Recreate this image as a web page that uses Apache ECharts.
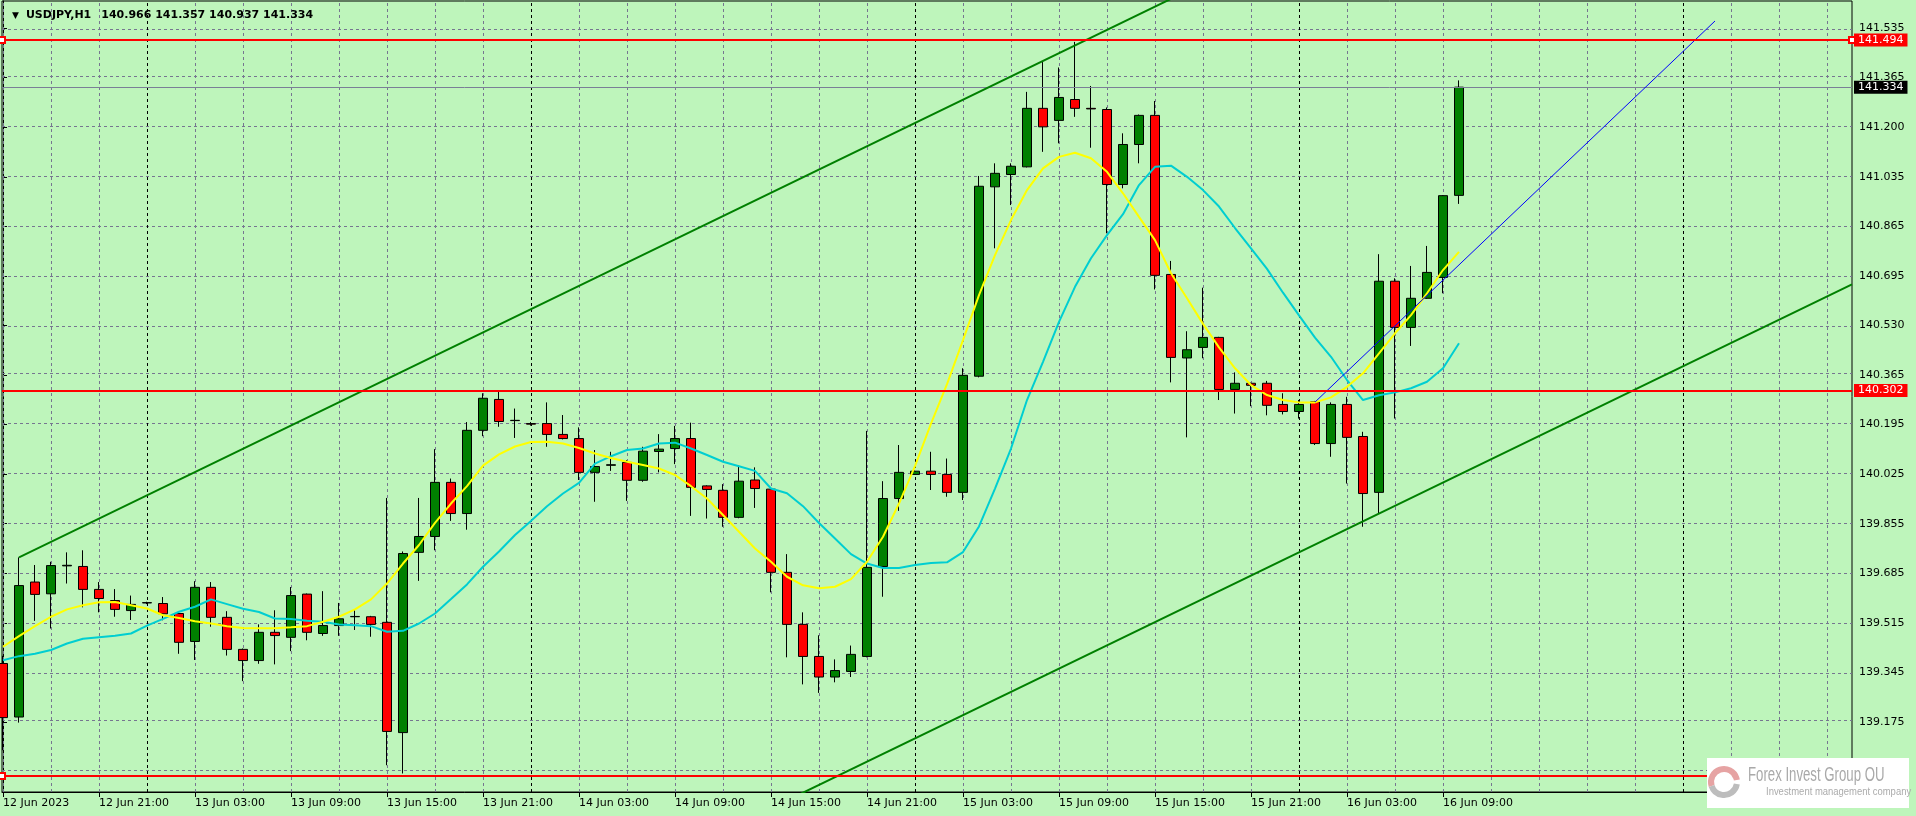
<!DOCTYPE html>
<html><head><meta charset="utf-8">
<script src="https://cdn.jsdelivr.net/npm/echarts@6/dist/echarts.min.js"></script>
<style>html,body{margin:0;padding:0;background:#bef5bb;overflow:hidden}#c{width:1916px;height:816px}</style>
</head><body><div id="c"></div>
<script>
// ---- data (hourly bars, 12 Jun 15:00 .. 16 Jun 10:00) ----
const symbolName = 'USDJPY,H1';
const opens  = [139.374,139.192,139.651,139.611,139.706,139.704,139.626,139.588,139.554,139.580,139.578,139.544,139.449,139.633,139.531,139.422,139.384,139.480,139.463,139.610,139.476,139.503,139.533,139.533,139.514,139.139,139.752,139.806,139.990,139.884,140.167,140.272,140.200,140.190,140.190,140.153,140.139,140.024,140.048,140.058,139.997,140.095,140.105,140.139,139.978,139.963,139.871,139.998,139.967,139.684,139.507,139.398,139.328,139.347,139.398,139.704,139.935,140.017,140.028,140.017,139.956,140.351,140.995,141.037,141.063,141.262,141.221,141.292,141.262,141.258,141.003,141.139,141.238,140.697,140.413,140.449,140.483,140.306,140.327,140.327,140.255,140.231,140.264,140.122,140.255,140.146,139.956,140.674,140.517,140.616,140.687,140.966];
const highs  = [139.400,139.735,139.709,139.720,139.752,139.759,139.651,139.627,139.605,139.584,139.600,139.548,139.654,139.651,139.552,139.425,139.507,139.555,139.634,139.612,139.620,139.580,139.555,139.536,139.937,139.755,139.937,140.103,140.003,140.195,140.293,140.298,140.241,140.195,140.262,140.219,140.177,140.100,140.094,140.066,140.111,140.154,140.182,140.193,139.980,139.984,140.049,140.041,139.970,139.746,139.548,139.470,139.388,139.435,140.165,139.994,140.117,140.030,140.094,140.071,140.378,141.032,141.075,141.075,141.318,141.420,141.401,141.488,141.338,141.265,141.177,141.241,141.287,140.743,140.504,140.652,140.485,140.364,140.329,140.335,140.293,140.270,140.267,140.262,140.281,140.162,140.766,140.684,140.726,140.794,140.967,141.357];
const lows   = [139.079,139.173,139.519,139.493,139.646,139.565,139.548,139.533,139.522,139.576,139.521,139.407,139.386,139.499,139.401,139.314,139.373,139.371,139.416,139.453,139.468,139.468,139.488,139.465,139.028,139.000,139.655,139.759,139.859,139.829,140.147,140.179,140.141,140.183,140.111,140.136,139.998,139.924,140.029,139.927,139.992,140.024,140.052,139.876,139.867,139.839,139.868,139.903,139.616,139.395,139.303,139.274,139.310,139.328,139.395,139.601,139.893,140.015,139.964,139.941,139.930,140.347,140.786,140.933,141.061,141.114,141.143,141.233,141.128,140.837,140.990,141.075,140.646,140.330,140.143,140.412,140.270,140.224,140.249,140.218,140.221,140.207,140.117,140.077,139.986,139.839,139.884,140.207,140.454,140.614,140.633,140.937];
const closes = [139.190,139.639,139.609,139.707,139.708,139.626,139.595,139.558,139.575,139.581,139.543,139.446,139.633,139.531,139.422,139.384,139.480,139.469,139.605,139.480,139.503,139.526,139.534,139.507,139.143,139.748,139.806,139.990,139.884,140.167,140.276,140.197,140.201,140.188,140.153,140.139,140.024,140.044,140.050,139.997,140.096,140.103,140.139,139.973,139.966,139.871,139.994,139.969,139.684,139.507,139.398,139.328,139.350,139.405,139.701,139.935,140.024,140.028,140.017,139.956,140.354,140.997,141.041,141.065,141.262,141.199,141.299,141.262,141.260,141.003,141.139,141.238,140.694,140.415,140.441,140.483,140.306,140.327,140.320,140.252,140.231,140.255,140.122,140.255,140.143,139.952,140.674,140.517,140.616,140.704,140.965,141.334];
const maFast = [139.431,139.467,139.501,139.533,139.558,139.572,139.582,139.583,139.572,139.561,139.538,139.529,139.518,139.510,139.501,139.495,139.494,139.494,139.497,139.501,139.516,139.533,139.558,139.592,139.646,139.714,139.777,139.852,139.918,139.977,140.047,140.085,140.112,140.127,140.128,140.122,140.107,140.088,140.073,140.060,140.049,140.037,140.015,139.977,139.935,139.879,139.822,139.765,139.720,139.669,139.640,139.630,139.635,139.661,139.720,139.805,139.918,140.045,140.190,140.324,140.474,140.627,140.763,140.882,140.984,141.058,141.097,141.111,141.092,141.046,140.973,140.893,140.814,140.701,140.616,140.529,140.449,140.378,140.321,140.287,140.270,140.262,140.262,140.279,140.315,140.361,140.429,140.497,140.559,140.633,140.712,140.774];
const maSlow = [139.385,139.399,139.407,139.420,139.442,139.458,139.463,139.468,139.476,139.503,139.526,139.550,139.567,139.592,139.576,139.560,139.549,139.527,139.525,139.519,139.516,139.507,139.504,139.501,139.482,139.485,139.510,139.544,139.593,139.643,139.703,139.755,139.811,139.859,139.909,139.952,139.988,140.054,140.079,140.100,140.105,140.122,140.125,140.105,140.083,140.060,140.045,140.029,139.969,139.953,139.909,139.852,139.799,139.746,139.714,139.699,139.699,139.709,139.716,139.718,139.753,139.840,139.969,140.105,140.270,140.400,140.536,140.655,140.752,140.831,140.902,141.001,141.063,141.067,141.029,140.984,140.928,140.855,140.786,140.716,140.635,140.558,140.482,140.417,140.338,140.270,140.286,140.296,140.310,140.332,140.378,140.463];
const xTickLabels = ['12 Jun 2023','12 Jun 21:00','13 Jun 03:00','13 Jun 09:00','13 Jun 15:00','13 Jun 21:00','14 Jun 03:00','14 Jun 09:00','14 Jun 15:00','14 Jun 21:00','15 Jun 03:00','15 Jun 09:00','15 Jun 15:00','15 Jun 21:00','16 Jun 03:00','16 Jun 09:00'];
const yTickLabels = ['141.535','141.365','141.200','141.035','140.865','140.695','140.530','140.365','140.195','140.025','139.855','139.685','139.515','139.345','139.175'];
const selectedLevels = [141.494, 138.991];
const plainLevels = [140.302];
const bidPrice = 141.334;
const daySeparators = [9, 33, 57, 81, 105];
const channelUpper = [[1, 139.735], [75, 141.687]];
const channelLower = [[48, 138.882], [115.5625, 140.663]];
const trendLine = [[82, 140.263], [107, 141.559]];

// ---- derived ----
const FONT = 'DejaVu Sans';
const candles = opens.map((o, i) => [i, o, closes[i], lows[i], highs[i]]);
const y0 = parseFloat(yTickLabels[0]);
const yStep = (y0 - parseFloat(yTickLabels[yTickLabels.length - 1])) / (yTickLabels.length - 1);
const yTickVals = yTickLabels.map((_, k) => y0 - k * yStep);
const yGridVals = yTickVals.concat([y0 - yTickLabels.length * yStep]);
const xLabelBars = xTickLabels.map((_, k) => k * 6);
const vGridBars = [];
for (let b = 0; b <= 115; b += 3) if (!daySeparators.includes(b)) vGridBars.push(b);
const last = opens.length - 1;
const f3 = v => Number(v).toFixed(3);

const chart = echarts.init(document.getElementById('c'));
const gridLine = {color: '#767690', width: 1, type: [3, 3]};
const priceLabel = (bg) => ({
  show: true, position: 'end', distance: 2, formatter: p => f3(p.data && p.data.yAxis != null ? p.data.yAxis : p.value),
  color: '#fff', backgroundColor: bg, fontFamily: FONT, fontSize: 11,
  padding: [1, 4, 0, 4], lineHeight: 12
});

chart.setOption({
  animation: false,
  backgroundColor: '#bef5bb',
  title: {
    left: 7, top: 5,
    text: '{t|▼}{s|' + symbolName + '}{v|' + [opens[last], highs[last], lows[last], closes[last]].map(f3).join(' ') + '}',
    textStyle: {
      rich: {
        t: {fontSize: 9, fontFamily: FONT, color: '#000', padding: [0, 7, 0, 0]},
        s: {fontSize: 11, fontFamily: FONT, color: '#000'},
        v: {fontSize: 11, fontFamily: FONT, color: '#000', padding: [0, 0, 0, 10]}
      }
    }
  },
  grid: {left: 2, right: 64, top: 1, bottom: 24, show: true, borderColor: '#000', borderWidth: 1, backgroundColor: 'transparent'},
  xAxis: {
    type: 'value', min: -0.0625, max: 115.5625,
    axisLine: {show: true, lineStyle: {color: '#000'}},
    splitLine: {show: false},
    axisTick: {show: true, customValues: xLabelBars, length: 5, lineStyle: {color: '#000'}},
    axisLabel: {
      customValues: xLabelBars, formatter: v => xTickLabels[Math.round(v / 6)] || '',
      align: 'left', margin: 6, color: '#000', fontFamily: FONT, fontSize: 11
    }
  },
  yAxis: {
    type: 'value', position: 'right', min: 138.937, max: 141.627, scale: true,
    axisLine: {show: true, lineStyle: {color: '#000'}},
    splitLine: {show: false},
    axisTick: {show: true, customValues: yTickVals, length: 4, lineStyle: {color: '#000'}},
    axisLabel: {
      customValues: yTickVals,
      formatter: v => yTickLabels[Math.round((y0 - v) / yStep)] || '',
      margin: 7, color: '#000', fontFamily: FONT, fontSize: 11
    }
  },
  series: [
    { // grid + period separators
      type: 'line', data: [], z: 1, silent: true,
      markLine: {
        silent: true, symbol: 'none', z: 1, animation: false, label: {show: false},
        lineStyle: gridLine,
        data: yGridVals.map(v => ({yAxis: v}))
          .concat(vGridBars.map(b => ({xAxis: b})))
          .concat(daySeparators.map(b => ({xAxis: b, lineStyle: {color: '#000', width: 1, type: [3, 3]}})))
      }
    },
    {
      type: 'candlestick', data: candles, encode: {x: 0, y: [1, 2, 3, 4]}, barWidth: 9, z: 3,
      itemStyle: {color: '#008000', color0: '#ff0000', borderColor: '#000', borderColor0: '#000', borderWidth: 1}
    },
    {type: 'line', data: maSlow.map((v, i) => [i, v]), showSymbol: false, z: 4, lineStyle: {color: '#00ced1', width: 2}},
    {type: 'line', data: maFast.map((v, i) => [i, v]), showSymbol: false, z: 4, lineStyle: {color: '#ffff00', width: 2}},
    {type: 'line', data: channelUpper, showSymbol: false, clip: true, z: 5, lineStyle: {color: '#008000', width: 2}},
    {type: 'line', data: channelLower, showSymbol: false, clip: true, z: 5, lineStyle: {color: '#008000', width: 2}},
    {type: 'line', data: trendLine, showSymbol: false, clip: true, z: 5, lineStyle: {color: '#0000ff', width: 1}},
    { // bid line
      type: 'line', data: [], z: 5,
      markLine: {silent: true, symbol: 'none', z: 5, animation: false, precision: 3,
        lineStyle: {color: '#7a7f96', width: 1, type: 'solid'},
        label: priceLabel('#000'), data: [{yAxis: bidPrice}]}
    },
    { // horizontal levels
      type: 'line', data: [], z: 6,
      markLine: {silent: true, symbol: 'none', z: 6, animation: false, precision: 3,
        lineStyle: {color: '#ff0000', width: 2, type: 'solid'},
        label: priceLabel('#ff0000'), data: plainLevels.map(v => ({yAxis: v}))}
    },
    {
      type: 'line', data: [], z: 6,
      markLine: {silent: true, symbol: ['emptyRect', 'emptyRect'], symbolSize: 6, z: 6, animation: false, precision: 3,
        lineStyle: {color: '#ff0000', width: 2, type: 'solid'},
        label: priceLabel('#ff0000'), data: selectedLevels.map(v => ({yAxis: v}))}
    }
  ],
  graphic: [
    {type: 'rect', z: 100, zlevel: 1, shape: {x: 1707, y: 758, width: 202, height: 50}, style: {fill: '#ffffff'}},
    {type: 'arc', z: 101, zlevel: 1, shape: {cx: 1724, cy: 782, r: 13, startAngle: Math.PI * 0.9, endAngle: Math.PI * 1.95}, style: {stroke: '#e6a3a3', lineWidth: 6, fill: null}},
    {type: 'arc', z: 101, zlevel: 1, shape: {cx: 1724, cy: 782, r: 13, startAngle: Math.PI * 0.05, endAngle: Math.PI * 0.9}, style: {stroke: '#bdbdbd', lineWidth: 6, fill: null}},
    {type: 'text', z: 101, zlevel: 1, x: 1748, y: 765, scaleX: 0.66, style: {text: 'Forex Invest Group OU', fill: '#a9a9a9', font: '20px "Liberation Sans Narrow", "Liberation Sans", sans-serif'}},
    {type: 'text', z: 101, zlevel: 1, x: 1766, y: 786, scaleX: 0.86, style: {text: 'Investment management company', fill: '#ababab', font: '11px "Liberation Sans", sans-serif'}}
  ]
});
</script></body></html>
